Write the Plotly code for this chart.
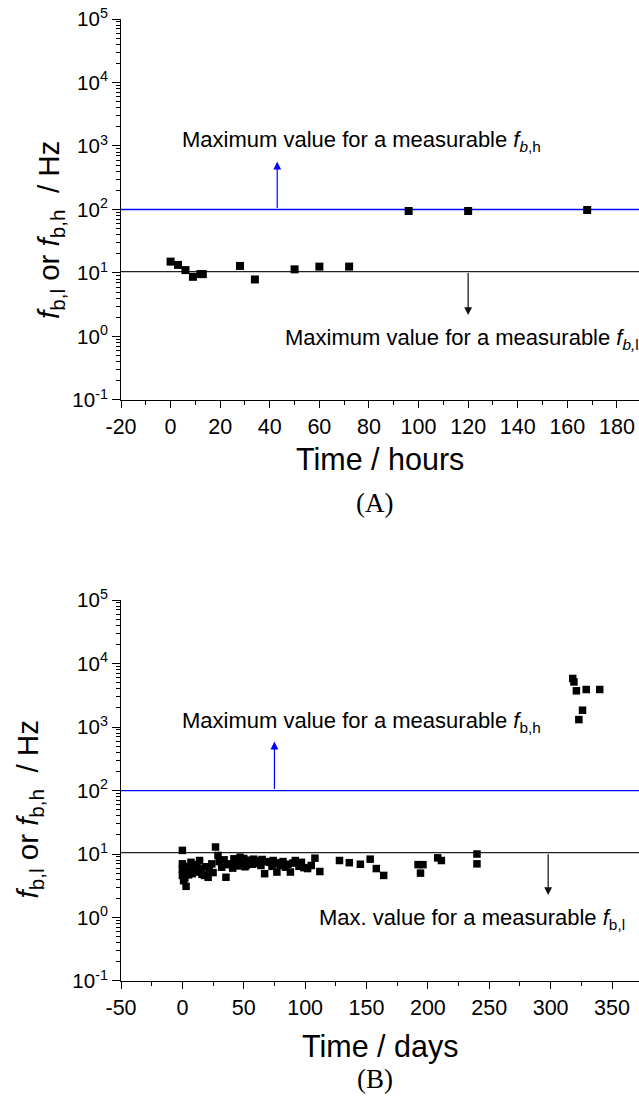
import numpy as np
import plotly.graph_objects as go

# ---------------- data ----------------
# Panel A: time in hours
hours = [0, 3, 6, 9, 12, 13, 28, 34, 50, 60, 72, 96, 120, 168]
fb_hours = [15.1, 13.4, 11.1, 8.7, 9.6, 9.6, 12.9, 7.9, 11.4, 12.6, 12.6, 94.6, 94.6, 98.0]

# Panel B: time in days
days = [0, 0, 1, 0, 1, 3, 3, 2, 1, 0, 2, 4, 5, 7, 8, 9, 11, 12, 14, 15,
        16, 18, 19, 21, 22, 24, 25, 27, 29, 30, 32, 34, 35.5, 37, 39, 41, 42, 44, 45, 47,
        48, 50, 51, 52, 54, 55, 57, 58, 60, 62, 64, 65, 67, 69, 71, 73, 74, 76, 77, 79,
        80, 82, 84, 86, 88, 90, 92, 95, 97, 99, 102, 105, 108, 112, 128, 136, 145, 153, 158, 164,
        192, 196, 194, 208, 211, 240, 240,
        318, 319, 321, 329, 340, 326, 323]
fb_days = [11.4, 7.0, 5.5, 4.6, 3.8, 3.1, 6.2, 5.0, 6.4, 5.8, 4.2, 5.4, 4.7, 7.4, 4.9, 6.0, 5.2, 6.8, 7.9, 5.9,
           4.8, 4.6, 6.3, 4.3, 5.6, 7.0, 5.1, 12.9, 9.5, 7.6, 6.2, 8.1, 4.3, 6.8, 7.0, 6.0, 8.4, 7.9, 6.5, 8.9,
           7.2, 8.5, 6.3, 6.6, 8.0, 7.4, 6.9, 8.3, 7.9, 7.1, 6.6, 8.2, 4.9, 7.6, 7.4, 6.4, 7.9, 7.0, 5.2, 7.3,
           6.6, 7.6, 6.2, 6.9, 5.2, 7.2, 7.9, 6.4, 7.4, 6.1, 5.9, 6.6, 8.6, 5.3, 7.9, 7.3, 6.9, 8.3, 5.9, 4.6,
           6.8, 6.8, 5.0, 8.7, 7.9, 10.0, 7.0,
           5820, 5130, 3720, 3900, 3900, 1840, 1310]

limit_low = 10.5     # max measurable f_b,l
limit_high = 100.0   # max measurable f_b,h

xrange_a = [-20, 188.9]
xrange_b = [-50, 372]
xticks_a = [-20, 0, 20, 40, 60, 80, 100, 120, 140, 160, 180]
xticks_b = [-50, 0, 50, 100, 150, 200, 250, 300, 350]
yticks = [0.1, 1, 10, 100, 1000, 10000, 100000]
ytick_labels = ['10<sup>-1</sup>', '10<sup>0</sup>', '10<sup>1</sup>', '10<sup>2</sup>',
                '10<sup>3</sup>', '10<sup>4</sup>', '10<sup>5</sup>']

# arrows: (x, start, end)
arrow_a_high = (43, 100, 566)
arrow_a_low = (120, 10.5, 2.18)
arrow_b_high = (75, 100, 590)
arrow_b_low = (298, 10.5, 2.26)

SANS = "Liberation Sans, Arial, sans-serif"
SERIF = "Liberation Serif, Times New Roman, serif"

# minor tick positions
ymin_ticks = [m * 10.0 ** e for e in range(-1, 5) for m in range(2, 10)]
xminor_a = [v + 10 for v in xticks_a]
xminor_b = [v + 25 for v in xticks_b]

fig = go.Figure()

fig.add_trace(go.Scatter(x=xrange_a, y=[limit_high, limit_high], mode='lines',
                         line=dict(color='#0000ff', width=1.3), xaxis='x', yaxis='y', showlegend=False))
fig.add_trace(go.Scatter(x=xrange_a, y=[limit_low, limit_low], mode='lines',
                         line=dict(color='#222222', width=1.3), xaxis='x', yaxis='y', showlegend=False))
fig.add_trace(go.Scatter(x=hours, y=fb_hours, mode='markers',
                         marker=dict(symbol='square', size=8, color='black'),
                         xaxis='x', yaxis='y', showlegend=False))

fig.add_trace(go.Scatter(x=xrange_b, y=[limit_high, limit_high], mode='lines',
                         line=dict(color='#0000ff', width=1.3), xaxis='x2', yaxis='y2', showlegend=False))
fig.add_trace(go.Scatter(x=xrange_b, y=[limit_low, limit_low], mode='lines',
                         line=dict(color='#222222', width=1.3), xaxis='x2', yaxis='y2', showlegend=False))
fig.add_trace(go.Scatter(x=days, y=fb_days, mode='markers',
                         marker=dict(symbol='square', size=7.5, color='black'),
                         xaxis='x2', yaxis='y2', showlegend=False))

top_dom = [0.604, 1.0]
bot_dom = [0.0, 0.396]

def xax(rng, ticks, minor, anchor, labels=True):
    return dict(range=rng, anchor=anchor, domain=[0, 1], tickmode='array', tickvals=ticks,
                ticktext=[str(t) for t in ticks], ticks='outside', ticklen=7, tickwidth=1,
                tickcolor='black', showline=True, linecolor='black', linewidth=1,
                showgrid=False, zeroline=False, showticklabels=labels,
                tickfont=dict(family=SANS, size=21.5, color='black'),
                minor=dict(tickmode='array', tickvals=minor, ticks='outside', ticklen=4,
                           tickcolor='black', tickwidth=1, showgrid=False))

def topax(rng, ticks, minor, overlay, anchor):
    return dict(range=rng, overlaying=overlay, side='top', anchor=anchor, tickmode='array',
                tickvals=ticks + minor, ticks='inside', ticklen=3, tickcolor='black',
                showticklabels=False, showline=True, linecolor='black', linewidth=1,
                showgrid=False, zeroline=False)

def yax(dom, anchor):
    return dict(type='log', range=[-1, 5], domain=dom, anchor=anchor, tickmode='array',
                tickvals=yticks, ticktext=ytick_labels, ticks='outside', ticklen=8, tickwidth=1,
                tickcolor='black', showline=True, linecolor='black', linewidth=1,
                showgrid=False, zeroline=False,
                tickfont=dict(family=SANS, size=20.5, color='black'),
                minor=dict(tickmode='array', tickvals=ymin_ticks, ticks='outside', ticklen=4,
                           tickcolor='black', tickwidth=1, showgrid=False))

annotations = []

def arrow(xref, yref, spec, color):
    x, y0, y1 = spec
    return dict(x=x, y=np.log10(y1), ax=x, ay=np.log10(y0), xref=xref, yref=yref,
                axref=xref, ayref=yref, text='', showarrow=True, arrowhead=2,
                arrowsize=1.3, arrowwidth=1.2, arrowcolor=color)

annotations += [
    arrow('x', 'y', arrow_a_high, '#0000ff'),
    arrow('x', 'y', arrow_a_low, '#111111'),
    arrow('x2', 'y2', arrow_b_high, '#0000ff'),
    arrow('x2', 'y2', arrow_b_low, '#111111'),
]

def text(x, y, s, xref, yref, size=22, **kw):
    d = dict(x=x, y=y, xref=xref, yref=yref, text=s, showarrow=False,
             font=dict(family=SANS, size=size, color='black'))
    d.update(kw)
    return d

annotations += [
    text(3.8, 3.085, 'Maximum value for a measurable <i>f</i><sub><i>b</i>,h</sub>', 'x', 'y',
         xanchor='left', yanchor='middle'),
    text(45.4, -0.035, 'Maximum value for a measurable <i>f</i><sub><i>b,</i>l</sub>', 'x', 'y',
         xanchor='left', yanchor='middle'),
    text(-2.1, 3.08, 'Maximum value for a measurable <i>f</i><sub>b,h</sub>', 'x2', 'y2',
         xanchor='left', yanchor='middle'),
    text(109.3, -0.03, 'Max. value for a measurable <i>f</i><sub>b,l</sub>', 'x2', 'y2',
         xanchor='left', yanchor='middle'),
    # axis titles
    text(0.5, 0.543, 'Time / hours', 'paper', 'paper', size=30.5, xanchor='center', yanchor='middle'),
    text(0.5, -0.068, 'Time / days', 'paper', 'paper', size=30.5, xanchor='center', yanchor='middle'),
    text(-0.135, 0.7807, '<i>f</i><sub>b,l</sub> or <i>f</i><sub>b,h</sub>  / Hz', 'paper', 'paper',
         size=29.5, xanchor='center', yanchor='middle', textangle=-90),
    text(-0.1766, 0.1778, '<i>f</i><sub>b,l</sub> or <i>f</i><sub>b,h</sub>  / Hz', 'paper', 'paper',
         size=29.5, xanchor='center', yanchor='middle', textangle=-90),
]
annotations.append(dict(x=0.49, y=0.4969, xref='paper', yref='paper', text='(A)', showarrow=False,
                        font=dict(family=SERIF, size=27, color='black'), xanchor='center', yanchor='middle'))
annotations.append(dict(x=0.49, y=-0.1015, xref='paper', yref='paper', text='(B)', showarrow=False,
                        font=dict(family=SERIF, size=27, color='black'), xanchor='center', yanchor='middle'))

fig.update_layout(
    width=639, height=1096,
    margin=dict(l=121, r=0, t=19, b=115),
    paper_bgcolor='white', plot_bgcolor='white',
    showlegend=False,
    xaxis=xax(xrange_a, xticks_a, xminor_a, 'y'),
    yaxis=yax(top_dom, 'x'),
    xaxis2=xax(xrange_b, xticks_b, xminor_b, 'y2'),
    yaxis2=yax(bot_dom, 'x2'),
    xaxis3=topax(xrange_a, xticks_a, xminor_a, 'x', 'y'),
    xaxis4=topax(xrange_b, xticks_b, xminor_b, 'x2', 'y2'),
    annotations=annotations,
)

fig.write_html("out.html")
